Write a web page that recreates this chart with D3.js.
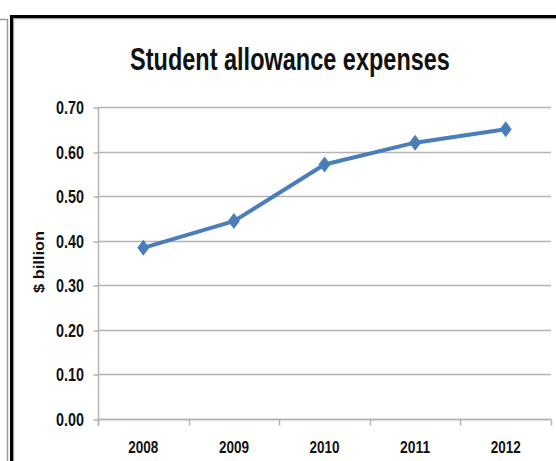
<!DOCTYPE html>
<html><head><meta charset="utf-8">
<script src="https://cdn.jsdelivr.net/npm/d3@7"></script>
<style>body{margin:0;background:#fff}svg{display:block}</style></head>
<body><svg id="c" width="556" height="461"></svg>
<script>
const years = ["2008", "2009", "2010", "2011", "2012"];
const expenses = [0.384, 0.444, 0.571, 0.620, 0.650];
const yTicks = [0.0, 0.1, 0.2, 0.3, 0.4, 0.5, 0.6, 0.7];
const titleText = "Student allowance expenses";
const yLabelText = "$ billion";

const FONT = "'Liberation Sans',Arial,sans-serif";
const svg = d3.select("#c");

// place a text at (px,py) with anchor, squeezed horizontally to width w
function squeezed(parent, str, px, py, size, w, anchor, rotate) {
  const g = parent.append("g");
  const t = g.append("text").attr("font-family", FONT).attr("font-weight", "bold")
    .attr("font-size", size).attr("fill", "#111").attr("text-anchor", anchor).text(str);
  const nat = t.node().getComputedTextLength();
  const s = w / nat;
  g.attr("transform", "translate(" + px + "," + py + ")" + (rotate ? " rotate(" + rotate + ")" : "") + " scale(" + s + ",1)");
  return t;
}

// outer frame
svg.append("line").attr("x1",0).attr("x2",8).attr("y1",19.5).attr("y2",19.5).attr("stroke","#9a9a9a").attr("stroke-width",1.5);
svg.append("line").attr("x1",7.5).attr("x2",7.5).attr("y1",19).attr("y2",461).attr("stroke","#9a9a9a").attr("stroke-width",1.5);
svg.append("rect").attr("x",10).attr("y",15).attr("width",546).attr("height",3).attr("fill","#000");
svg.append("rect").attr("x",13).attr("y",18).attr("width",543).attr("height",1.2).attr("fill","#a0a0a0");
svg.append("rect").attr("x",10).attr("y",15).attr("width",3).attr("height",446).attr("fill","#000");
svg.append("rect").attr("x",13).attr("y",18).attr("width",1.2).attr("height",443).attr("fill","#a0a0a0");

const x = d3.scaleBand().domain(years).range([98, 551]);
const y = d3.scaleLinear().domain([0, 0.7]).range([419, 107]);

// gridlines
svg.append("g").selectAll("line").data(yTicks).join("line")
  .attr("x1", 98).attr("x2", 551)
  .attr("y1", d => Math.round(y(d)) + 0.5).attr("y2", d => Math.round(y(d)) + 0.5)
  .attr("stroke", "#b4b4b4").attr("stroke-width", 1.5);

// y axis (ticks + line via d3 axis, labels squeezed)
const ya = svg.append("g").attr("transform", "translate(98.5,0)")
  .call(d3.axisLeft(y).tickValues(yTicks).tickFormat("").tickSize(5));
ya.select(".domain").attr("stroke", "#b4b4b4").attr("stroke-width", 1.5).attr("d", "M0," + y(0.7) + "V" + (y(0) + 7));
ya.selectAll(".tick line").attr("stroke", "#b4b4b4").attr("stroke-width", 1.5)
  .attr("transform", function(d){ return "translate(0," + (Math.round(y(d)) + 0.5 - y(d)) + ")"; });
const fmt = d3.format(".2f");
const yl = svg.append("g");
yTicks.forEach(d => squeezed(yl, fmt(d), 84, Math.round(y(d)) + 7, 18, 28, "end"));

// x axis
const xa = svg.append("g").attr("transform", "translate(0," + (Math.round(y(0)) + 0.5) + ")");
xa.append("line").attr("x1", 98).attr("x2", 551).attr("stroke", "#b4b4b4").attr("stroke-width", 1.5);
const bounds = years.map(d => x(d)).concat([x.range()[1]]);
xa.selectAll(".tk").data(bounds).join("line").attr("class","tk")
  .attr("x1", d => Math.round(d) + 0.5).attr("x2", d => Math.round(d) + 0.5)
  .attr("y1", 0).attr("y2", 6).attr("stroke", "#b4b4b4").attr("stroke-width", 1.5);
years.forEach(d => squeezed(xa, d, x(d) + x.bandwidth() / 2, 33, 17, 30, "middle"));

// title
squeezed(svg, titleText, 290, 70, 32, 320, "middle");

// y label
squeezed(svg, yLabelText, 44, 262, 15, 62, "middle", -90);

// line
const data = years.map((d, i) => ({year: d, value: expenses[i]}));
const cx = d => x(d.year) + x.bandwidth() / 2;
svg.append("path").datum(data)
  .attr("d", d3.line().x(cx).y(d => y(d.value)))
  .attr("fill", "none").attr("stroke", "#4a7ebb").attr("stroke-width", 4).attr("stroke-linejoin", "round");
svg.append("g").selectAll("path").data(data).join("path")
  .attr("transform", d => "translate(" + cx(d) + "," + y(d.value) + ")")
  .attr("d", "M0,-8L6,0L0,8L-6,0Z").attr("fill", "#4a7ebb");
</script></body></html>
